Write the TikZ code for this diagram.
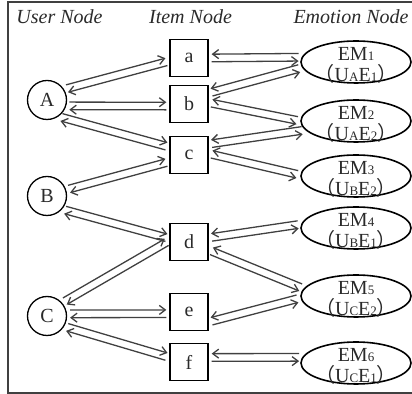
\documentclass[tikz,border=0pt]{standalone}
\usepackage{fontspec}
\setmainfont{Liberation Serif}
\newfontfamily\cjk{Noto Sans CJK SC}
\usetikzlibrary{arrows.meta, calc, shapes.geometric}
\definecolor{lnk}{HTML}{404040}
\definecolor{ink}{HTML}{2A2A2A}
\newcommand\sm[1]{{\fontsize{6.5}{6.5}\selectfont #1}}
\newcommand\duogap{1.9pt}
% two opposite arrows side by side
\newcommand\duo[3][90]{%
  \pgfmathsetmacro\duoang{-(#1)}%
  \draw[arr] ($(#2)!\duogap!#1:(#3)$) -- ($(#3)!\duogap!\duoang:(#2)$);
  \draw[arr] ($(#3)!\duogap!#1:(#2)$) -- ($(#2)!\duogap!\duoang:(#3)$);}

\begin{document}
\begin{tikzpicture}[x=0.5pt, y=-0.5pt, font=\fontsize{10}{10.5}\selectfont,
  user/.style={circle, draw=black, line width=0.65pt, minimum size=19.5pt, inner sep=0pt, text=ink},
  item/.style={rectangle, draw=black, line width=0.65pt, minimum width=19pt, minimum height=18.5pt, inner sep=0pt, text=ink},
  emo/.style={ellipse, draw=black, line width=0.8pt, minimum width=55pt, minimum height=21pt, inner sep=0pt},
  emolbl/.style={align=center, text=ink, yshift=-1.5pt},
  head/.style={font=\fontsize{10}{12}\selectfont\itshape, text=ink, anchor=base},
  arr/.style={-{Straight Barb[length=3pt,width=4.5pt]}, draw=lnk, line width=0.65pt, shorten <=1.5pt, shorten >=1.5pt},
  frame/.style={draw=lnk, line width=1.2pt}]
  \useasboundingbox (0,0) rectangle (412,394);
  \draw[frame] (416,2) -- (8,2) -- (8,393) -- (416,393);

  \node[head] (hu) at (59.5,24) {User Node};
  \node[head] (hi) at (190.5,24) {Item Node};
  \node[head] (he) at (351,24) {Emotion Node};

  % users
  \node[user] (A) at (47,100) {A};
  \node[user] (B) at (47,196) {B};
  \node[user] (C) at (47,316) {C};
  % items
  \node[item] (a) at (189,58) {a};
  \node[item] (b) at (189,104) {b};
  \node[item] (c) at (189,155) {c};
  \node[item] (d) at (189,242) {d};
  \node[item] (e) at (189,312) {e};
  \node[item] (f) at (189,362) {f};
  % emotions
  \node[emo, label={[emolbl]center:{EM\sm{1}\\{\cjk （}U\sm{A}E\sm{1}{\cjk ）}}}] (EM1) at (356,62) {};
  \node[emo, label={[emolbl]center:{EM\sm{2}\\{\cjk （}U\sm{A}E\sm{2}{\cjk ）}}}] (EM2) at (356,121) {};
  \node[emo, label={[emolbl]center:{EM\sm{3}\\{\cjk （}U\sm{B}E\sm{2}{\cjk ）}}}] (EM3) at (356,176) {};
  \node[emo, label={[emolbl]center:{EM\sm{4}\\{\cjk （}U\sm{B}E\sm{1}{\cjk ）}}}] (EM4) at (356,228) {};
  \node[emo, label={[emolbl]center:{EM\sm{5}\\{\cjk （}U\sm{C}E\sm{2}{\cjk ）}}}] (EM5) at (356,296) {};
  \node[emo, label={[emolbl]center:{EM\sm{6}\\{\cjk （}U\sm{C}E\sm{1}{\cjk ）}}}] (EM6) at (356,363) {};

  % user - item
  \duo{A.32}{a.189}
  \duo{A.-17}{b.186}
  \duo{A.-55}{c.158}
  \duo{B.18}{c.199}
  \duo{B.-41}{d.170}
  \duo{C.41}{d.176}
  \duo{C.6}{e.185}
  \duo{C.-31}{f.167}
  % item - emotion
  \duo[-90]{a.0}{EM1.175}
  \duo[-90]{b.29}{EM1.186}
  \duo[-90]{b.4}{EM2.180}
  \duo[-90]{c.29}{EM2.190}
  \duo[-90]{c.4}{EM3.179}
  \duo[-90]{d.12}{EM4.176}
  \duo[-90]{d.-22}{EM5.172}
  \duo[-90]{e.-27}{EM5.182}
  \duo[-90]{f.13}{EM6.174}
\end{tikzpicture}
\end{document}
